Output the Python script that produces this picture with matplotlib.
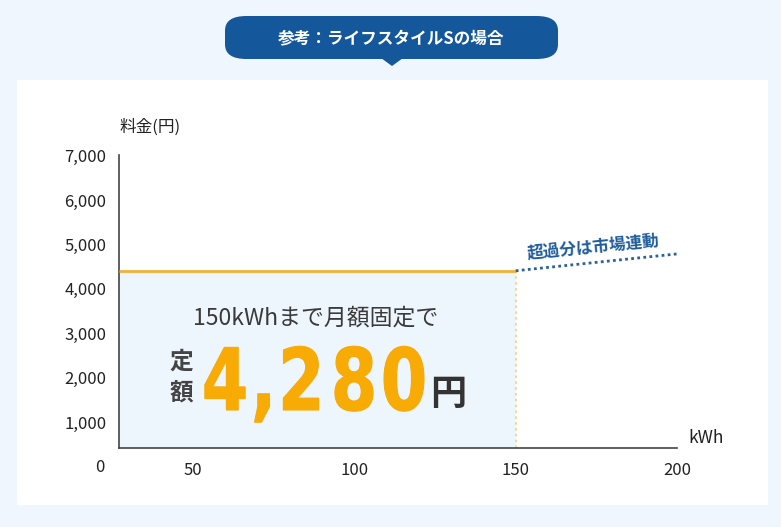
import matplotlib
matplotlib.use("Agg")
import matplotlib.pyplot as plt
from matplotlib.patches import Rectangle, FancyBboxPatch, Polygon, PathPatch
from matplotlib.textpath import TextPath
from matplotlib.font_manager import FontProperties
from matplotlib.transforms import Affine2D

plt.rcParams['font.family'] = ['Noto Sans CJK JP', 'DejaVu Sans']

# data
usage_fixed = [27.0, 150]          # kWh, fixed-price part
price_fixed = [4410, 4410]         # yen
usage_market = [150, 200]          # kWh, market-linked part
price_market = [4410, 4790]
xticks = [50, 100, 150, 200]
yticks = [1000, 2000, 3000, 4000, 5000, 6000, 7000]
ytick_labels = ["1,000", "2,000", "3,000", "4,000", "5,000", "6,000", "7,000"]
price_chars = ["4", ",", "2", "8", "0"]
char_centers = [225, 262, 301, 354, 404]   # px

BG = "#eff6fd"
NAVY = "#15579b"
ORANGE = "#f8aa05"
TXT = "#222222"

W, H = 781, 527
fig = plt.figure(figsize=(W / 100, H / 100), dpi=100)
fig.patch.set_facecolor(BG)


def fx(px):
    return px / W


def fy(py):
    return 1 - py / H


# white panel
fig.patches.append(Rectangle((fx(17), fy(505)), fx(768) - fx(17), fy(80) - fy(505),
                             transform=fig.transFigure, facecolor="white", edgecolor="none", zorder=0))
# title badge
fig.patches.append(FancyBboxPatch((fx(225), fy(59)), fx(558) - fx(225), fy(16) - fy(59),
                                  boxstyle="round,pad=0,rounding_size=0.0275",
                                  transform=fig.transFigure, facecolor=NAVY, edgecolor="none", zorder=1))
fig.patches.append(Polygon([(fx(381), fy(58)), (fx(403), fy(58)), (fx(392), fy(66))],
                           closed=True, transform=fig.transFigure, facecolor=NAVY, edgecolor="none", zorder=1))
fig.text(fx(391), fy(38), "参考：ライフスタイルSの場合", color="white", fontsize=12,
         fontweight="bold", ha="center", va="center")

ax = fig.add_axes([fx(119), fy(448), fx(677) - fx(119), fy(155) - fy(448)])
ax.set_zorder(2)
ax.set_facecolor("none")
ax.set_xlim(usage_fixed[0], 200)
ax.set_ylim(414, 7020)

ax.fill_between(usage_fixed, price_fixed, 414, color="#eef6fd", lw=0, zorder=1)
ax.plot(usage_fixed, price_fixed, color="#f2b035", lw=2, zorder=3, solid_capstyle="butt")
ax.plot([150, 150], [414, price_fixed[1]], color="#f7cf7a", lw=1.2, ls=(0, (1.5, 2)), zorder=2)
ax.plot(usage_market, price_market, color="#2c609a", lw=2, ls=(0, (1, 1.2)), zorder=3)

for s in ["top", "right"]:
    ax.spines[s].set_visible(False)
for s in ["left", "bottom"]:
    ax.spines[s].set_color("#444444")
    ax.spines[s].set_linewidth(1.2)

ax.set_xticks(xticks)
ax.set_xticklabels([str(v) for v in xticks])
ax.set_yticks(yticks)
ax.set_yticklabels(ytick_labels)
ax.tick_params(axis="both", length=0, labelsize=12, labelcolor=TXT)
ax.tick_params(axis="x", pad=10)
ax.tick_params(axis="y", pad=9)

fig.text(fx(100), fy(467), "0", fontsize=12, color=TXT, ha="center", va="center")
fig.text(fx(150), fy(127), "料金(円)", fontsize=12, color=TXT, ha="center", va="center")
fig.text(fx(706), fy(438), "kWh", fontsize=12.5, color=TXT, ha="center", va="center")

fig.text(fx(593), fy(247), "超過分は市場連動", fontsize=12, fontweight="bold", color="#1f5c9c",
         ha="center", va="center", rotation=5.6, rotation_mode="anchor")

fig.text(fx(316), fy(318), "150kWhまで月額固定で", fontsize=16.5, color="#3a3a3a",
         ha="center", va="center")
fig.text(fx(181), fy(362), "定", fontsize=17, fontweight="bold", color="#444444", ha="center", va="center")
fig.text(fx(181), fy(393), "額", fontsize=17, fontweight="bold", color="#444444", ha="center", va="center")

# big condensed price figure, drawn from glyph outlines
prop = FontProperties(family="DejaVu Sans", weight="bold")
ref = TextPath((0, 0), "0", size=1, prop=prop).get_extents()
sy = 65 / ref.height
sx = 40 / ref.width
for ch, cx in zip(price_chars, char_centers):
    tp = TextPath((0, 0), ch, size=1, prop=prop)
    ext = tp.get_extents()
    mid = (ext.x0 + ext.x1) / 2
    tr = (Affine2D().translate(-mid, 0).scale(sx, sy)
          .translate(cx, H - 410).scale(1 / W, 1 / H) + fig.transFigure)
    fig.patches.append(PathPatch(tp, transform=tr, facecolor=ORANGE, edgecolor=ORANGE,
                                 lw=0.8, zorder=3))

fig.text(fx(448), fy(394), "円", fontsize=26, fontweight="bold", color="#333333", ha="center", va="center")

fig.savefig("out.png", dpi=100, facecolor=BG)
